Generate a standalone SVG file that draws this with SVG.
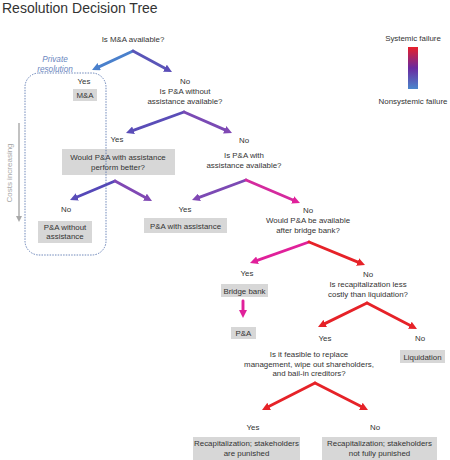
<svg xmlns="http://www.w3.org/2000/svg" width="450" height="460" viewBox="0 0 450 460">
<style>
text{font-family:"Liberation Sans",Arial,sans-serif;font-size:7.9px;fill:#333;text-anchor:middle}
.title{font-size:14px;text-anchor:start;fill:#333}
.box{fill:#d7d7d7}
.a{fill:none;stroke-width:2.9;stroke-linecap:round}
.priv{fill:#6b86c0;font-style:italic;font-size:8.2px}
.cost{fill:#a8a8a8;font-size:8px}
</style>
<defs>
<linearGradient id="leg" x1="0" y1="0" x2="0" y2="1">
<stop offset="0" stop-color="#e8202a"/>
<stop offset="0.5" stop-color="#6a2aa0"/>
<stop offset="1" stop-color="#4a86cc"/>
</linearGradient>
<marker id="mBlue" markerUnits="userSpaceOnUse" markerWidth="8" markerHeight="8" refX="1" refY="4" orient="auto"><path d="M0,0 L8,4 L0,8 z" fill="#4a80cc"/></marker>
<marker id="mViolet" markerUnits="userSpaceOnUse" markerWidth="8" markerHeight="8" refX="1" refY="4" orient="auto"><path d="M0,0 L8,4 L0,8 z" fill="#5a4db8"/></marker>
<marker id="mPurple" markerUnits="userSpaceOnUse" markerWidth="8" markerHeight="8" refX="1" refY="4" orient="auto"><path d="M0,0 L8,4 L0,8 z" fill="#8048b4"/></marker>
<marker id="mMagenta" markerUnits="userSpaceOnUse" markerWidth="8" markerHeight="8" refX="1" refY="4" orient="auto"><path d="M0,0 L8,4 L0,8 z" fill="#e0209a"/></marker>
<marker id="mRed" markerUnits="userSpaceOnUse" markerWidth="8" markerHeight="8" refX="1" refY="4" orient="auto"><path d="M0,0 L8,4 L0,8 z" fill="#e62228"/></marker>
<marker id="mGray" markerUnits="userSpaceOnUse" markerWidth="6" markerHeight="6" refX="1" refY="3" orient="auto"><path d="M0,0 L6,3 L0,6 z" fill="#a8a8a8"/></marker>
</defs>
<rect width="450" height="460" fill="#fff"/>
<text class="title" x="2" y="13">Resolution Decision Tree</text>

<g id="legend">
<text x="413" y="41">Systemic failure</text>
<rect x="408" y="47" width="10" height="42" fill="url(#leg)"/>
<text x="413" y="104">Nonsystemic failure</text>
</g>

<g id="costs">
<line x1="19" y1="123" x2="19" y2="217" stroke="#a8a8a8" stroke-width="1.4" marker-end="url(#mGray)"/>
<text class="cost" transform="translate(12,173) rotate(-90)">Costs increasing</text>
</g>

<g id="connectors">
<line class="a" x1="133" y1="51" x2="98.35" y2="67.06" stroke="#4a80cc" marker-end="url(#mBlue)"/>
<line class="a" x1="133" y1="51" x2="165.84" y2="68.68" stroke="#5a55b8" marker-end="url(#mViolet)"/>
<line class="a" x1="184" y1="112" x2="132.58" y2="130.62" stroke="#5a4db8" marker-end="url(#mViolet)"/>
<line class="a" x1="184" y1="112" x2="225.59" y2="130.19" stroke="#7a4ab4" marker-end="url(#mPurple)"/>
<line class="a" x1="115" y1="181" x2="76.45" y2="197.28" stroke="#5548b8" marker-end="url(#mViolet)"/>
<line class="a" x1="115" y1="181" x2="145.84" y2="197.67" stroke="#8048b4" marker-end="url(#mPurple)"/>
<line class="a" x1="246" y1="180" x2="198.56" y2="197.57" stroke="#7c4ab4" marker-end="url(#mPurple)"/>
<line class="a" x1="246" y1="180" x2="293.56" y2="200.26" stroke="#d42a9e" marker-end="url(#mMagenta)"/>
<line class="a" x1="309" y1="242" x2="256.59" y2="260.65" stroke="#e0209a" marker-end="url(#mMagenta)"/>
<line class="a" x1="309" y1="242" x2="358.52" y2="262.34" stroke="#e62228" marker-end="url(#mRed)"/>
<line class="a" x1="243" y1="301" x2="243" y2="311" stroke="#e0209a" marker-end="url(#mMagenta)"/>
<line class="a" x1="367" y1="303" x2="324.29" y2="323.92" stroke="#e62228" marker-end="url(#mRed)"/>
<line class="a" x1="367" y1="303" x2="410.79" y2="325.77" stroke="#e62228" marker-end="url(#mRed)"/>
<line class="a" x1="315" y1="383" x2="268.24" y2="406.82" stroke="#e62228" marker-end="url(#mRed)"/>
<line class="a" x1="315" y1="383" x2="361.76" y2="406.82" stroke="#e62228" marker-end="url(#mRed)"/>
</g>

<g id="q1"><text x="133" y="42">Is M&amp;A available?</text></g>

<g id="ma">
<text x="84" y="84">Yes</text>
<rect class="box" x="73" y="89" width="24" height="12"/>
<text x="85" y="98">M&amp;A</text>
</g>

<g id="q2">
<text x="185" y="84">No</text>
<text x="185" y="94">Is P&amp;A without</text>
<text x="185" y="104">assistance available?</text>
</g>

<g id="q3">
<text x="117" y="142">Yes</text>
<rect class="box" x="62" y="149" width="113" height="26"/>
<text x="118" y="160">Would P&amp;A with assistance</text>
<text x="118" y="170">perform better?</text>
</g>

<g id="q4">
<text x="244" y="143">No</text>
<text x="244" y="158">Is P&amp;A with</text>
<text x="244" y="168">assistance available?</text>
</g>

<g id="pa-without">
<text x="66" y="212">No</text>
<rect class="box" x="38" y="221" width="54" height="22"/>
<text x="65" y="229.5">P&amp;A without</text>
<text x="65" y="239">assistance</text>
</g>

<g id="pa-with">
<text x="185" y="212">Yes</text>
<rect class="box" x="144" y="218" width="83" height="15"/>
<text x="185.5" y="228.5">P&amp;A with assistance</text>
</g>

<g id="q5">
<text x="308" y="213">No</text>
<text x="308" y="223">Would P&amp;A be available</text>
<text x="308" y="233">after bridge bank?</text>
</g>

<g id="bridge">
<text x="247" y="276">Yes</text>
<rect class="box" x="221" y="284" width="47" height="13"/>
<text x="244.5" y="293.5">Bridge bank</text>
</g>

<g id="pa">
<rect class="box" x="231" y="327" width="25" height="12"/>
<text x="243.5" y="336">P&amp;A</text>
</g>

<g id="q6">
<text x="368" y="277">No</text>
<text x="368" y="287">Is recapitalization less</text>
<text x="368" y="297">costly than liquidation?</text>
</g>

<g id="liquidation">
<text x="420" y="341">No</text>
<rect class="box" x="400" y="350" width="45" height="13"/>
<text x="422.5" y="359.5">Liquidation</text>
</g>

<g id="q7">
<text x="325" y="341">Yes</text>
<text x="309" y="357">Is it feasible to replace</text>
<text x="309" y="366.5">management, wipe out shareholders,</text>
<text x="309" y="376">and bail-in creditors?</text>
</g>

<g id="recap-punished">
<text x="253" y="430">Yes</text>
<rect class="box" x="193" y="437" width="107" height="23"/>
<text x="246.5" y="446">Recapitalization; stakeholders</text>
<text x="246.5" y="455.5">are punished</text>
</g>

<g id="recap-not">
<text x="375" y="430">No</text>
<rect class="box" x="322" y="437" width="115" height="23"/>
<text x="379.5" y="446">Recapitalization; stakeholders</text>
<text x="379.5" y="455.5">not fully punished</text>
</g>

<g id="private">
<rect x="25" y="73" width="81" height="182" rx="14" ry="14" fill="none" stroke="#4a6aa8" stroke-width="0.8" stroke-dasharray="1.5,1.2"/>
<text class="priv" x="55" y="62">Private</text>
<text class="priv" x="55" y="72">resolution</text>
</g>
</svg>
